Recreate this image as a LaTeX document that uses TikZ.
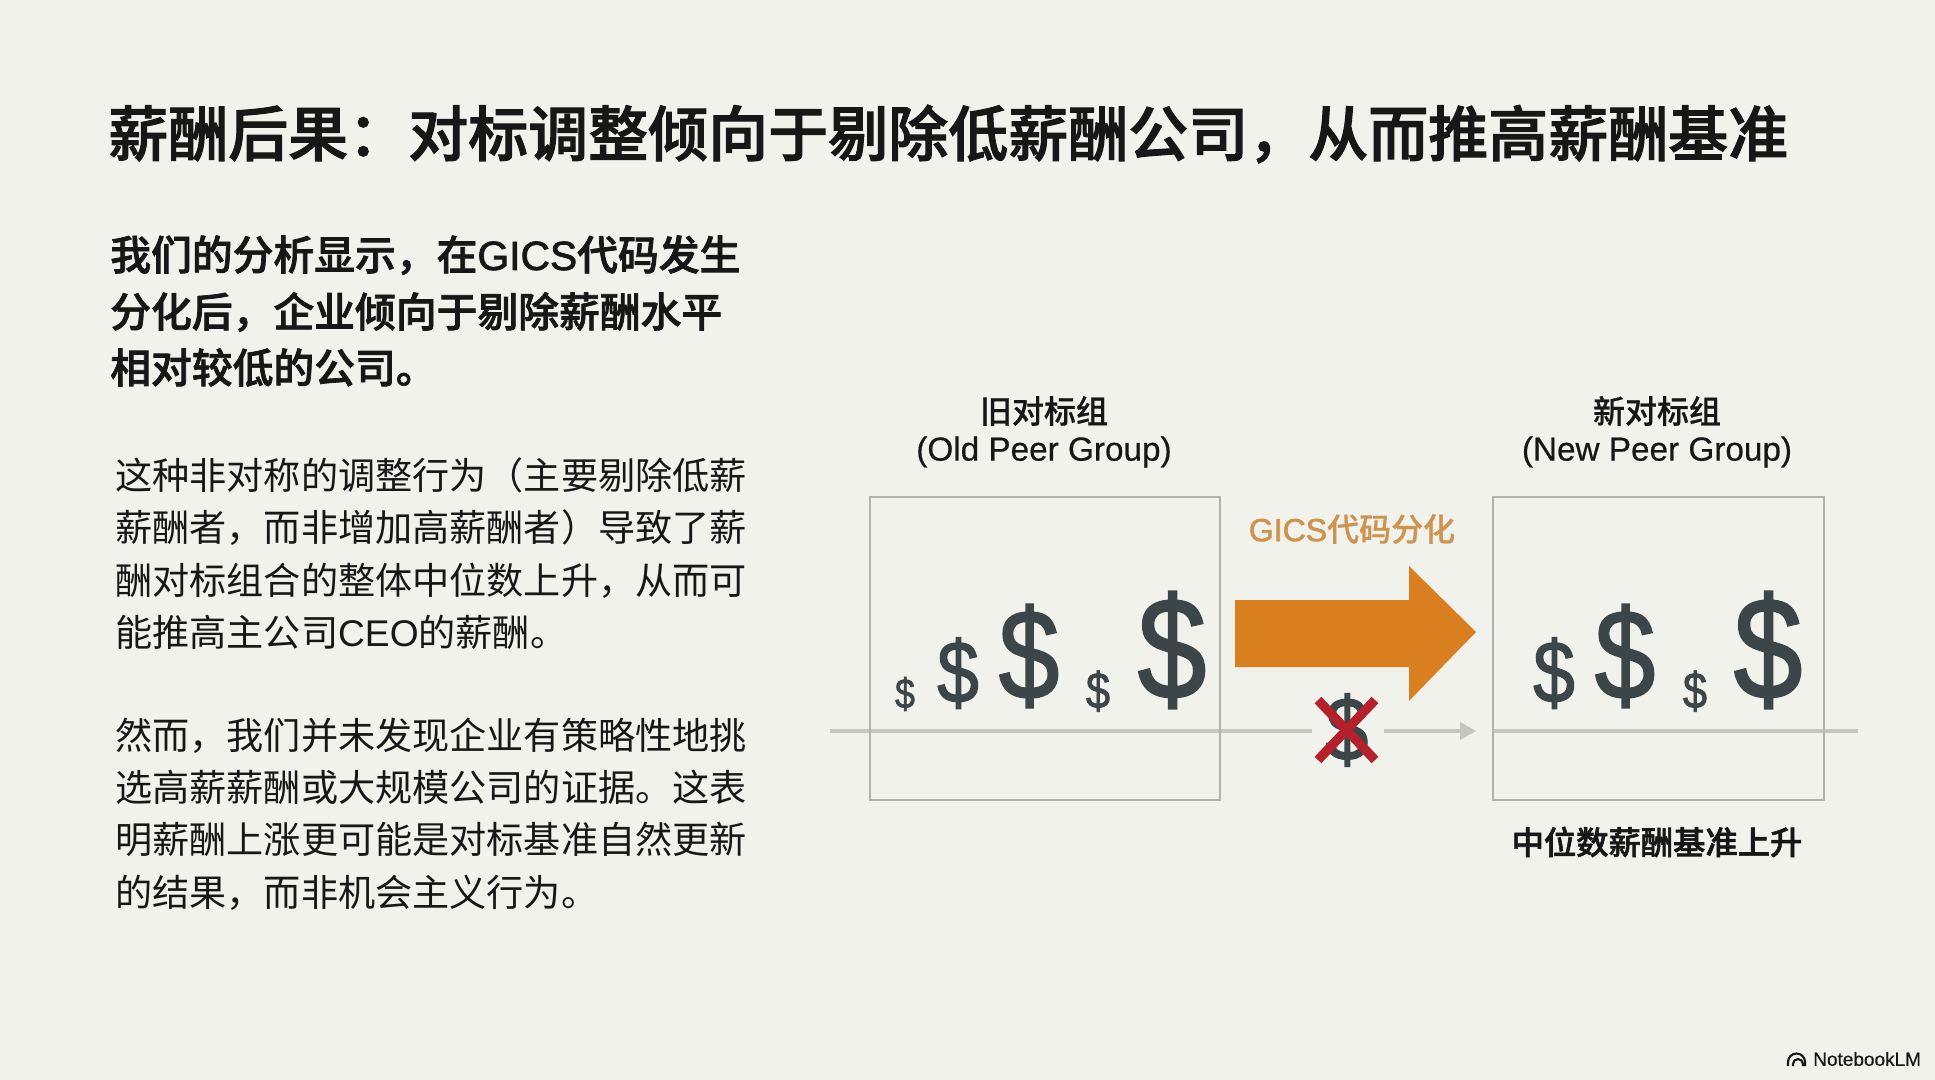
\documentclass[tikz,border=0pt]{standalone}
\usepackage{fontspec}
\setmainfont{Noto Sans CJK SC}
\newfontfamily\strongfont[FakeBold=1.8]{Noto Sans CJK SC Medium}
\newfontfamily\medfont[FakeBold=0.6]{Noto Sans CJK SC Medium}
\newfontfamily\latfont{Liberation Sans}
\newfontfamily\latmed[FakeBold=0.5]{Liberation Sans}
\newfontfamily\latbold[FakeBold=1.8]{Liberation Sans}
\newfontfamily\dollarfont[FakeStretch=0.85,FakeBold=1.4]{Liberation Sans}
\newcommand\fpx[1]{\fontsize{\fpeval{#1*0.75}pt}{\fpeval{#1*0.9}pt}\selectfont}
\definecolor{bgc}{HTML}{F2F2ED}
\definecolor{inkc}{HTML}{171717}
\definecolor{slatec}{HTML}{3C4548}
\definecolor{boxc}{HTML}{B2B2AE}
\definecolor{axisc}{HTML}{C6C6C1}
\definecolor{orangec}{HTML}{D97F1F}
\definecolor{goldc}{HTML}{CE934F}
\definecolor{redc}{HTML}{B5212B}
\tikzset{
  titletext/.style={anchor=base west,inner sep=0,text=inkc,font=\strongfont\fpx{60}},
  leadtext/.style={anchor=base west,inner sep=0,text=inkc,font=\strongfont\fpx{40.8}},
  bodytext/.style={anchor=base west,inner sep=0,text=inkc,font=\fpx{37.15}},
  grouplabel/.style={anchor=center,inner sep=0,text=inkc,font=\medfont\fpx{32}},
  grouplatin/.style={anchor=center,inner sep=0,text=inkc,font=\latmed\fpx{33.3}},
  peerbox/.style={draw=boxc,line width=1.5pt,fill=none},
  dollar/.style={anchor=center,inner sep=0,text=slatec,font=\dollarfont\fpx{#1}},
  axisline/.style={draw=axisc,line width=3pt},
  crossline/.style={draw=redc,line width=7pt}
}
\begin{document}
\begin{tikzpicture}[x=0.75pt,y=-0.75pt]
\useasboundingbox (0,0) rectangle (1935,1080);
\fill[bgc] (0,0) rectangle (1935,1080);

\node[titletext] (title) at (108,156) {薪酬后果：对标调整倾向于剔除低薪酬公司，从而推高薪酬基准};

\node[leadtext] (l1) at (110,270) {我们的分析显示，在{\latbold GICS}代码发生};
\node[leadtext] (l2) at (110,327) {分化后，企业倾向于剔除薪酬水平};
\node[leadtext] (l3) at (110,383) {相对较低的公司。};

\node[bodytext] (a1) at (115,489) {这种非对称的调整行为（主要剔除低薪};
\node[bodytext] (a2) at (115,541) {薪酬者，而非增加高薪酬者）导致了薪};
\node[bodytext] (a3) at (115,594) {酬对标组合的整体中位数上升，从而可};
\node[bodytext] (a4) at (115,646) {能推高主公司{\latfont CEO}的薪酬。};

\node[bodytext] (b1) at (115,749) {然而，我们并未发现企业有策略性地挑};
\node[bodytext] (b2) at (115,801) {选高薪薪酬或大规模公司的证据。这表};
\node[bodytext] (b3) at (115,853) {明薪酬上涨更可能是对标基准自然更新};
\node[bodytext] (b4) at (115,906) {的结果，而非机会主义行为。};

\node[grouplabel] (oldzh) at (1044,411) {旧对标组};
\node[grouplatin] (olden) at (1044,452) {(Old Peer Group)};
\node[grouplabel] (newzh) at (1657,411) {新对标组};
\node[grouplatin] (newen) at (1657,452) {(New Peer Group)};

% axis
\coordinate (axA) at (830,731);
\coordinate (axB) at (1312,731);
\coordinate (axC) at (1384,731);
\coordinate (axD) at (1460,731);
\coordinate (axE) at (1493,731);
\coordinate (axF) at (1858,731);
\draw[axisline] (axA) -- (axB);
\draw[axisline] (axC) -- (axD);
\fill[axisc] (1460,722) -- (1476,731) -- (1460,740) -- cycle;
\draw[axisline] (axE) -- (axF);

\draw[peerbox] (870,497) rectangle (1220,800);
\draw[peerbox] (1493,497) rectangle (1824,800);

% dollars
\node[dollar=42] (d1) at (905,694) {\$};
\node[dollar=88] (d2) at (958,673) {\$};
\node[dollar=128] (d3) at (1029,656) {\$};
\node[dollar=51] (d4) at (1098,691) {\$};
\node[dollar=145] (d5) at (1172,650) {\$};
\node[dollar=88] (e1) at (1554,673) {\$};
\node[dollar=128] (e2) at (1625,656) {\$};
\node[dollar=51] (e3) at (1695,691) {\$};
\node[dollar=145] (e4) at (1768,650) {\$};

% block arrow
\fill[orangec] (1235,600) -- (1409,600) -- (1409,566) -- (1476,632) -- (1409,701) -- (1409,667) -- (1235,667) -- cycle;
\node[anchor=center,inner sep=0,text=goldc,font=\medfont\fpx{32}] (gics) at (1352,529) {{\latbold GICS}代码分化};

% crossed dollar
\node[dollar=90] (cd) at (1347,730) {\$};
\draw[crossline] (1318,700) -- (1375,760);
\draw[crossline] (1375,700) -- (1318,760);

\node[anchor=center,inner sep=0,text=inkc,font=\strongfont\fpx{32.3}] (median) at (1657,842) {中位数薪酬基准上升};

% NotebookLM mark
\draw[inkc,line width=1.6pt] (1788,1066) -- (1788,1062) arc[start angle=180,end angle=360,radius=8.5] -- (1805,1066);
\draw[inkc,line width=1.6pt] (1793,1066) -- (1793,1064) arc[start angle=180,end angle=360,radius=5] -- (1803,1066);
\node[anchor=west,inner sep=0,text=inkc,font=\latmed\fpx{19}] (nlm) at (1813,1059) {NotebookLM};
\end{tikzpicture}
\end{document}
